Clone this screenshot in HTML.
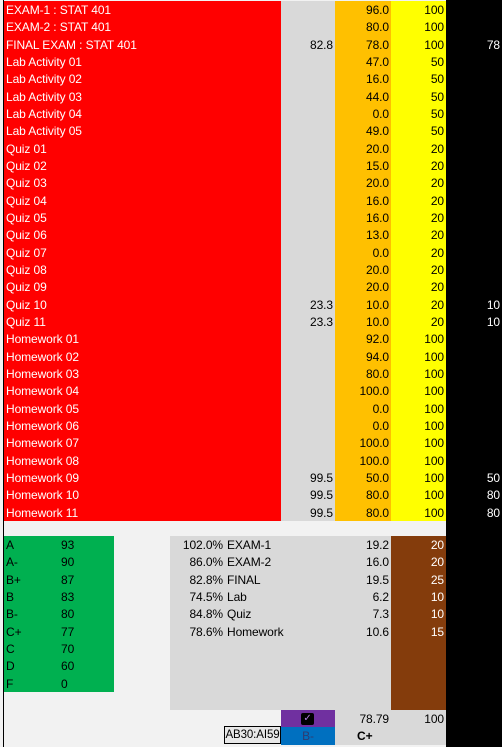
<!DOCTYPE html>
<html><head><meta charset="utf-8"><style>
body{margin:0;width:502px;height:747px;overflow:hidden;background:#f2f2f2;font-family:"Liberation Sans",Arial,sans-serif;font-size:12px;letter-spacing:-0.1px;position:relative}
.c{position:absolute;height:17.33px;line-height:18.5px;white-space:nowrap;box-sizing:border-box;overflow:hidden}
.r{text-align:right;padding-right:2px}
.l{padding-left:2px}
.blk{position:absolute}
</style></head><body>
<div class="blk" style="left:3px;top:0;width:1px;height:747px;background:#000"></div>
<div class="blk" style="left:446px;top:0;width:56px;height:747px;background:#000"></div>
<div class="blk" style="left:4px;top:536px;width:110px;height:156px;background:#00b050"></div>
<div class="blk" style="left:170px;top:536px;width:221px;height:174px;background:#d9d9d9"></div>
<div class="blk" style="left:391px;top:536px;width:55px;height:174px;background:#843c0c"></div>
<div class="blk" style="left:335px;top:710px;width:111px;height:35px;background:#d9d9d9"></div>
<div class="blk" style="left:281px;top:710px;width:54px;height:17px;background:#7030a0"></div>
<div class="blk" style="left:301px;top:713px;width:13px;height:12px;background:#000;border-radius:2px;color:#b07ce0;font-size:10px;line-height:12px;text-align:center">✓</div>
<div class="blk" style="left:281px;top:727px;width:54px;height:18px;background:#0070c0;color:#2f3b70;text-align:center;line-height:18px">B-</div>
<div class="blk" style="left:224px;top:726px;width:57px;height:18px;border:1px solid #000;box-sizing:border-box;background:#e8e8e8;text-align:center;line-height:16px;font-size:11.5px">AB30:AI59</div>
<div class="blk" style="left:335px;top:710px;width:54px;height:17px;line-height:18px;text-align:right">78.79</div>
<div class="blk" style="left:391px;top:710px;width:53px;height:17px;line-height:18px;text-align:right">100</div>
<div class="blk" style="left:357px;top:727px;height:18px;line-height:19px;font-weight:bold">C+</div>
<script>
const names=["EXAM-1 : STAT 401","EXAM-2 : STAT 401","FINAL EXAM : STAT 401","Lab Activity 01","Lab Activity 02","Lab Activity 03","Lab Activity 04","Lab Activity 05","Quiz 01","Quiz 02","Quiz 03","Quiz 04","Quiz 05","Quiz 06","Quiz 07","Quiz 08","Quiz 09","Quiz 10","Quiz 11","Homework 01","Homework 02","Homework 03","Homework 04","Homework 05","Homework 06","Homework 07","Homework 08","Homework 09","Homework 10","Homework 11"];
const avgs=["","","82.8","","","","","","","","","","","","","","","23.3","23.3","","","","","","","","","99.5","99.5","99.5"];
const scores=["96.0","80.0","78.0","47.0","16.0","44.0","0.0","49.0","20.0","15.0","20.0","16.0","16.0","13.0","0.0","20.0","20.0","10.0","10.0","92.0","94.0","80.0","100.0","0.0","0.0","100.0","100.0","50.0","80.0","80.0"];
const maxes=["100","100","100","50","50","50","50","50","20","20","20","20","20","20","20","20","20","20","20","100","100","100","100","100","100","100","100","100","100","100"];
const extra=["","","78","","","","","","","","","","","","","","","10","10","","","","","","","","","50","80","80"];
const grades=["A","A-","B+","B","B-","C+","C","D","F"];
const cutoffs=["93","90","87","83","80","77","70","60","0"];
const pcts=["102.0%","86.0%","82.8%","74.5%","84.8%","78.6%"];
const comps=["EXAM-1","EXAM-2","FINAL","Lab","Quiz","Homework"];
const pts=["19.2","16.0","19.5","6.2","7.3","10.6"];
const wts=["20","20","25","10","10","15"];
const RH=17.33;
function cell(x,y,w,txt,cls,bg,col){const d=document.createElement('div');d.className='c '+cls;d.style.left=x+'px';d.style.top=y+'px';d.style.width=w+'px';if(bg)d.style.background=bg;if(col)d.style.color=col;d.textContent=txt;document.body.appendChild(d);return d;}
names.forEach((n,i)=>{const y=1+i*RH;
let a=cell(4,y,277,n,'l','#ff0000','#fff');


let b=cell(281,y,54,avgs[i],'r','#d9d9d9','#000');


let c=cell(335,y,56,scores[i],'r','#ffc000','#000');


let d=cell(391,y,55,maxes[i],'r','#ffff00','#000');


let e=cell(446,y,56,extra[i],'r',null,'#fff');


});
grades.forEach((g,i)=>{const y=536+i*RH;
let a=cell(4,y,55,g,'l',null,'#000');


let b=cell(59,y,55,cutoffs[i],'l',null,'#000');


});
pcts.forEach((p,i)=>{const y=536+i*RH;
let a=cell(170,y,55,p,'r',null,'#000');


let b=cell(225,y,110,comps[i],'l',null,'#000');


let c=cell(335,y,56,pts[i],'r',null,'#000');


let d=cell(391,y,55,wts[i],'r',null,'#fff');


});
</script>
</body></html>
